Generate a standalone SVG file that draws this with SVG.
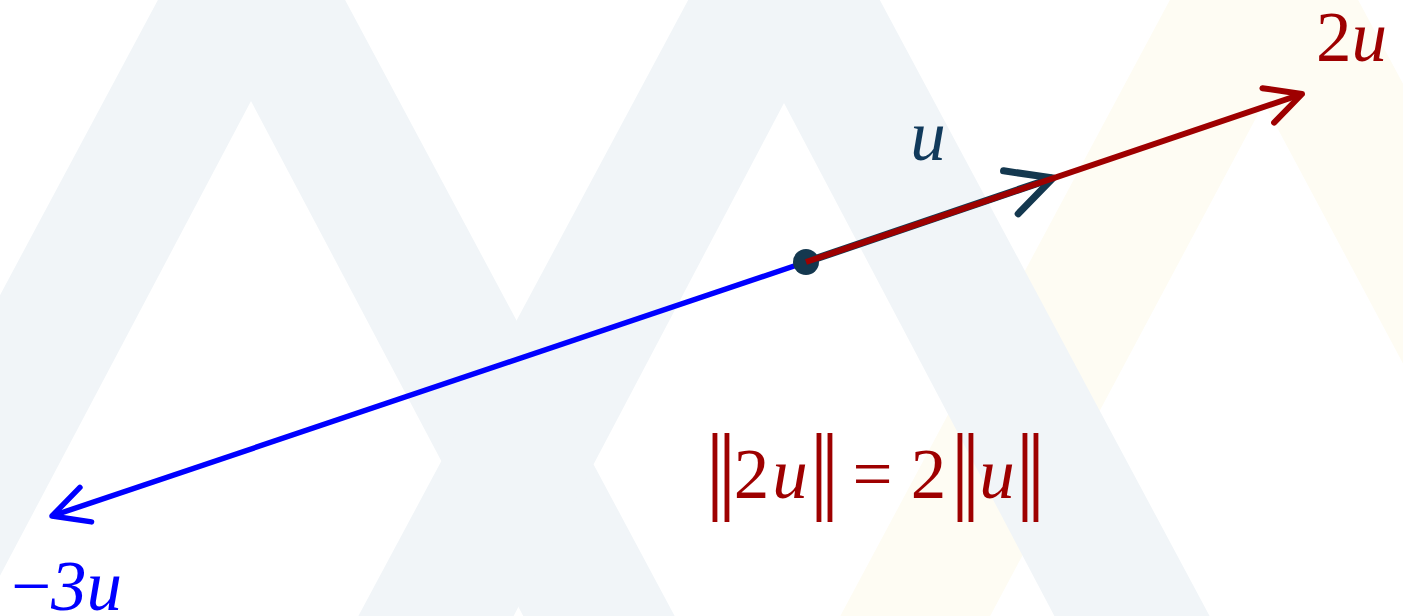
<svg xmlns="http://www.w3.org/2000/svg" width="1403" height="616" viewBox="0 0 1403 616">
<style>
.bg{fill:#f1f5f8;fill-rule:evenodd}
.bgy{fill:#fefcf3;fill-rule:evenodd}
.vec{fill:none;stroke-linecap:butt}
.t{font-family:"Liberation Serif","Times New Roman",serif;font-size:71px}
.i{font-style:italic}
.bar{font-family:"Liberation Serif","Times New Roman",serif;font-size:97px;text-anchor:middle}
.red{fill:#9e0000}
</style>
<defs>
<marker id="hRed" markerUnits="userSpaceOnUse" orient="auto" refX="0" refY="0" overflow="visible">
<path d="M-35.6,-18.2 L0,0 L-35.6,18.2" fill="none" stroke="#9e0000" stroke-width="6" stroke-linecap="round" stroke-linejoin="round"/>
</marker>
<marker id="hNavy" markerUnits="userSpaceOnUse" orient="auto" refX="0" refY="0" overflow="visible">
<path d="M-44.5,-22.7 L0,0 L-44.5,22.7" fill="none" stroke="#14384f" stroke-width="7" stroke-linecap="round" stroke-linejoin="round"/>
</marker>
<marker id="hBlue" markerUnits="userSpaceOnUse" orient="auto" refX="0" refY="0" overflow="visible">
<path d="M-35.6,-18.2 L0,0 L-35.6,18.2" fill="none" stroke="#0000ff" stroke-width="5.5" stroke-linecap="round" stroke-linejoin="round"/>
</marker>
</defs>
<rect width="1403" height="616" fill="#ffffff"/>
<g id="background">
<path class="bgy" d="M1264,-176 L1738,710 L790,710 Z M1264,103 L1588,710 L940,710 Z"/>
<path class="bg" d="M251.5,-175 L726,712 L-223,712 Z M251,101 L574,712 L-72,712 Z"/>
<path class="bg" d="M784,-179 L1261,712 L307,712 Z M784,103 L1105,712 L463,712 Z"/>
</g>
<g id="connectors">
<line id="v-3u" class="vec" x1="806" y1="262" x2="52" y2="516" stroke="#0000ff" stroke-width="5.5" marker-end="url(#hBlue)"/>
<g id="origin"><circle cx="806" cy="262" r="13" fill="#14384f"/></g>
<line id="v-u" class="vec" x1="806" y1="262" x2="1053" y2="178" stroke="#14384f" stroke-width="7.5" marker-end="url(#hNavy)"/>
<line id="v-2u" class="vec" x1="806" y1="262" x2="1302" y2="94" stroke="#9e0000" stroke-width="6" marker-end="url(#hRed)"/>
</g>
<g id="label-u"><text class="t i" x="928" y="160" text-anchor="middle" fill="#113a5c">u</text></g>
<g id="label-2u"><text class="t red" x="1316" y="61">2<tspan class="i">u</tspan></text></g>
<g id="label-m3u"><text class="t" x="11" y="610" fill="#0000ff">−<tspan class="i">3u</tspan></text></g>
<g id="equation">
<text class="t red" text-anchor="middle"><tspan class="bar" x="715" y="501">|</tspan><tspan class="bar" x="727" y="501">|</tspan><tspan x="751.5" y="498">2</tspan><tspan class="i" x="790" y="498">u</tspan><tspan class="bar" x="819" y="501">|</tspan><tspan class="bar" x="830" y="501">|</tspan><tspan x="872.5" y="498">=</tspan><tspan x="928.5" y="498">2</tspan><tspan class="bar" x="960" y="501">|</tspan><tspan class="bar" x="971" y="501">|</tspan><tspan class="i" x="997" y="498">u</tspan><tspan class="bar" x="1025" y="501">|</tspan><tspan class="bar" x="1036" y="501">|</tspan></text>
</g>
</svg>
